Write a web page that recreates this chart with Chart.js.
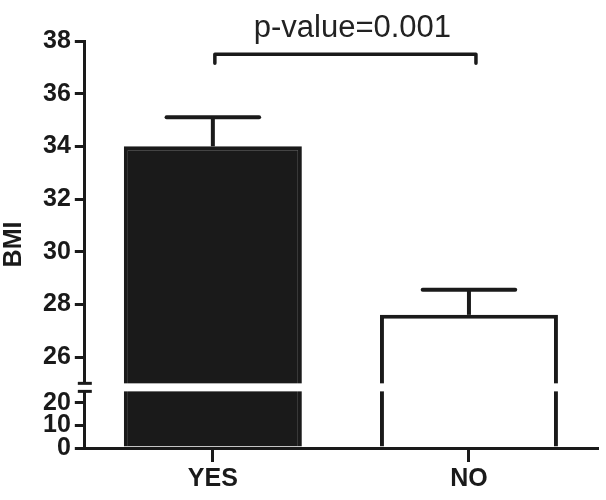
<!DOCTYPE html>
<html>
<head>
<meta charset="utf-8">
<script src="https://cdn.jsdelivr.net/npm/chart.js@4.4.1/dist/chart.umd.min.js"></script>
<style>
  html, body { margin: 0; padding: 0; background: #fff; }
  #wrap { width: 606px; height: 500px; }
</style>
</head>
<body>
<div id="wrap"><canvas id="grafico" width="606" height="500"></canvas></div>
<script>
// datos
const categories = ["YES", "NO"];
const bmiMeans = [34.0, 27.6];
const bmiErrors = [1.1, 0.95];
const upperTicks = [26, 28, 30, 32, 34, 36, 38];
const lowerTicks = [0, 10, 20];
const upperRange = [24.88, 38];
const lowerRange = [0, 27.15];
const breakValue = 25;
const bracketValue = 37.5;
const pLabel = "p-value=0.001";
const axisTitle = "BMI";

const ink = "#1a1a1a";
const family = "'Liberation Sans', Arial, sans-serif";
const tickFont = { family: family, size: 25, weight: "bold", lineHeight: 1 };

// barras de error, corte del eje, corchete y titulo
const extras = {
  id: "extras",
  afterDatasetsDraw(chart) {
    const ctx = chart.ctx;
    const yTop = chart.scales.yTop;
    const meta = chart.getDatasetMeta(0);
    ctx.save();
    ctx.strokeStyle = ink;
    ctx.lineWidth = 4;
    meta.data.forEach((bar, i) => {
      const yErr = yTop.getPixelForValue(bmiMeans[i] + bmiErrors[i]);
      const half = bar.width * 0.26;
      ctx.lineCap = "butt";
      ctx.beginPath();
      ctx.moveTo(bar.x, bar.y);
      ctx.lineTo(bar.x, yErr);
      ctx.stroke();
      ctx.lineCap = "round";
      ctx.beginPath();
      ctx.moveTo(bar.x - half, yErr);
      ctx.lineTo(bar.x + half, yErr);
      ctx.stroke();
    });
    ctx.restore();
  },
  afterDraw(chart) {
    const ctx = chart.ctx;
    const area = chart.chartArea;
    const { x, yTop, yBot } = chart.scales;
    const axisX = area.left;
    const gapTop = yTop.getPixelForValue(breakValue);
    const gapBottom = yBot.getPixelForValue(breakValue);

    ctx.save();
    ctx.fillStyle = "#fff";
    ctx.fillRect(axisX - 14, gapTop, area.right - axisX + 20, gapBottom - gapTop);
    ctx.strokeStyle = ink;
    ctx.lineWidth = 3;
    [gapTop, gapBottom].forEach(y => {
      ctx.beginPath();
      ctx.moveTo(axisX - 7, y);
      ctx.lineTo(axisX + 7, y);
      ctx.stroke();
    });

    // corchete del p-valor
    const x0 = x.getPixelForValue(0) + 2;
    const x1 = x.getPixelForValue(1) + 7;
    const yb = yTop.getPixelForValue(bracketValue);
    ctx.lineWidth = 3.5;
    ctx.lineJoin = "round";
    ctx.lineCap = "round";
    ctx.beginPath();
    ctx.moveTo(x0, yb + 9);
    ctx.lineTo(x0, yb);
    ctx.lineTo(x1, yb);
    ctx.lineTo(x1, yb + 9);
    ctx.stroke();

    ctx.fillStyle = "#222";
    ctx.font = "31px " + family;
    ctx.textAlign = "center";
    ctx.textBaseline = "alphabetic";
    ctx.fillText(pLabel, (x0 + x1) / 2 + 7, yb - 17);

    // titulo del eje y
    ctx.translate(14, (area.top + area.bottom) / 2);
    ctx.rotate(-Math.PI / 2);
    ctx.font = "bold 25px " + family;
    ctx.fillStyle = ink;
    ctx.textBaseline = "middle";
    ctx.fillText(axisTitle, 0, 0);
    ctx.restore();
  }
};

function yAxis(range, ticksList, weight) {
  return {
    type: "linear",
    position: "left",
    stack: "bmi",
    stackWeight: weight,
    min: range[0],
    max: range[1],
    afterBuildTicks: s => { s.ticks = ticksList.map(v => ({ value: v })); },
    grid: { drawOnChartArea: false, drawTicks: true, tickLength: 10, lineWidth: 3, color: ink },
    border: { display: true, width: 3, color: ink },
    ticks: { color: ink, font: tickFont, padding: 4, autoSkip: false }
  };
}

const ctx = document.getElementById("grafico").getContext("2d");
const chart = new Chart(ctx, {
  type: "bar",
  data: {
    labels: categories,
    datasets: [
      {
        label: "upper",
        data: bmiMeans,
        yAxisID: "yTop",
        backgroundColor: [ink, "#fff"],
        borderColor: ink,
        borderWidth: 4,
        borderSkipped: "start",
        grouped: false,
        barPercentage: 0.695,
        categoryPercentage: 1
      },
      {
        label: "lower",
        data: bmiMeans.map(v => Math.min(v, lowerRange[1])),
        yAxisID: "yBot",
        backgroundColor: [ink, "#fff"],
        borderColor: ink,
        borderWidth: 4,
        borderSkipped: "start",
        grouped: false,
        barPercentage: 0.695,
        categoryPercentage: 1
      }
    ]
  },
  options: {
    responsive: false,
    animation: false,
    devicePixelRatio: 1,
    layout: { padding: { left: 39, right: 9, top: 41, bottom: 3 } },
    plugins: { legend: { display: false }, tooltip: { enabled: false } },
    scales: {
      x: {
        type: "category",
        offset: true,
        grid: { offset: false, drawOnChartArea: false, drawTicks: true, tickLength: 14, lineWidth: 3, color: ink },
        border: { display: true, width: 3, color: ink },
        ticks: { color: ink, font: tickFont, padding: 5 }
      },
      // el primero del stack queda abajo
      yBot: yAxis(lowerRange, lowerTicks, 61.5),
      yTop: yAxis(upperRange, upperTicks, 345.5)
    }
  },
  plugins: [extras]
});
</script>
</body>
</html>
